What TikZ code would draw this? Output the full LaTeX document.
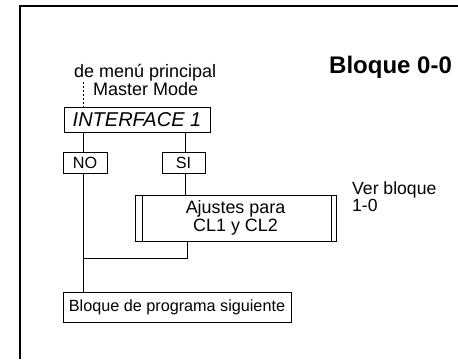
\documentclass[tikz,border=0pt]{standalone}
\usepackage{fontspec}
\setmainfont{Liberation Sans}
\begin{document}
\begin{tikzpicture}[x=1pt,y=-1pt,
  box/.style={draw, line width=1pt, inner sep=0pt, align=center},
  conn/.style={line width=1pt},
  txt/.style={inner sep=0pt, anchor=base west, align=left}]
\useasboundingbox (0,0) rectangle (458,359);
% frame
\draw[line width=1.4pt] (20,359) -- (20,6) -- (458,6);
% title
\node[txt, font=\fontsize{24}{28}\selectfont\bfseries] (title) at (329,73) {Bloque 0-0};
% source labels
\node[txt, font=\fontsize{18}{19}\selectfont] (src1) at (74,77) {de menú principal};
\node[txt, font=\fontsize{18}{19}\selectfont] (src2) at (93,95) {Master Mode};
% boxes
\node[box, minimum width=146pt, minimum height=25pt, font=\fontsize{20}{22}\selectfont\itshape] (iface) at (137,119.5) {INTERFACE 1};
\node[box, minimum width=44pt, minimum height=21pt, font=\fontsize{16.2}{18}\selectfont] (no) at (85,162.5) {NO};
\node[box, minimum width=43pt, minimum height=21pt, font=\fontsize{16.2}{18}\selectfont] (si) at (183.5,162.5) {SI};
\node[box, minimum width=201pt, minimum height=46pt, font=\fontsize{17.9}{18.5}\selectfont] (aj) at (235.5,218) {Ajustes para\\CL1 y CL2};
\draw[conn] ([xshift=8pt]aj.north west) -- ([xshift=8pt]aj.south west);
\draw[conn] ([xshift=-5pt]aj.north east) -- ([xshift=-5pt]aj.south east);
\node[txt, font=\fontsize{17.6}{17}\selectfont] (ver) at (352,211) {Ver bloque\\1-0};
\node[box, minimum width=228pt, minimum height=30pt, font=\fontsize{16.2}{18}\selectfont] (next) at (177,307) {Bloque de programa siguiente};
% connectors
\coordinate (xl) at (83,0);
\coordinate (xs) at (185.5,0);
\coordinate (xa) at (187,0);
\coordinate (dtop) at (83,82);
\coordinate (join) at (83,258);
\draw[conn, dash pattern=on 2pt off 2pt] (dtop) -- (iface.north -| xl);
\draw[conn] (iface.south -| xl) -- (no.north -| xl);
\draw[conn] (iface.south -| xs) -- (si.north -| xs);
\draw[conn] (no.south -| xl) -- (next.north -| xl);
\draw[conn] (si.south -| xs) -- (aj.north -| xs);
\draw[conn] (aj.south -| xa) -- (join -| xa) -- (join);
\end{tikzpicture}
\end{document}
